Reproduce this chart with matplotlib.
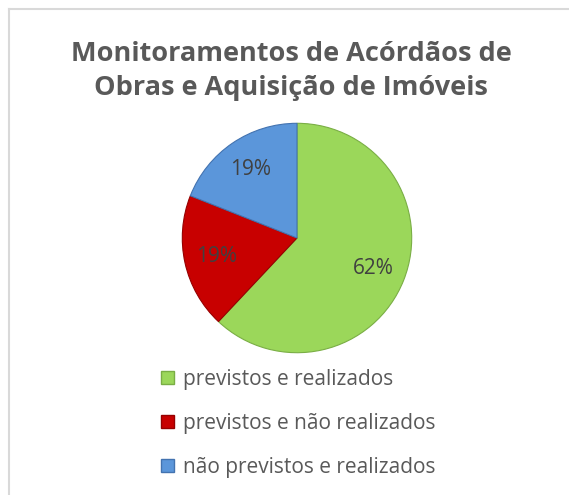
import matplotlib
matplotlib.use("Agg")
import matplotlib.pyplot as plt
from matplotlib.patches import Patch
from matplotlib.lines import Line2D

title = "Monitoramentos de Acórdãos de\nObras e Aquisição de Imóveis"
categories = ["previstos e realizados", "previstos e não realizados", "não previstos e realizados"]
values = [62, 19, 19]
colors = ["#9BD75A", "#C80000", "#5B96DA"]
edges = ["#7AAE45", "#960000", "#4373B0"]

plt.rcParams['font.family'] = ['Open Sans', 'DejaVu Sans']

W, H = 569, 495
fig = plt.figure(figsize=(W/100, H/100), dpi=100)
# chart frame (only top and left edges visible in the cropped picture)
fig.lines.append(Line2D([8.5/W, 1.0], [1 - 9/H, 1 - 9/H], transform=fig.transFigure,
                        color="#D9D9D9", linewidth=1.5))
fig.lines.append(Line2D([8.5/W, 8.5/W], [0.0, 1 - 9/H], transform=fig.transFigure,
                        color="#D9D9D9", linewidth=1.5))

fig.text(291/W, 1 - 71/H, title, ha="center", va="center", fontsize=19.5, fontweight="bold",
         color="#595959", linespacing=1.42, multialignment="center")

cx, cy, r = 297, 238, 117
ax = fig.add_axes([(cx - r)/W, (H - cy - r)/H, 2*r/W, 2*r/H])
wedges, texts, autotexts = ax.pie(values, colors=colors, startangle=90, counterclock=False,
                                  autopct=lambda p: f"{p:.0f}%", pctdistance=0.72,
                                  wedgeprops=dict(linewidth=0.8),
                                  textprops=dict(fontsize=15, color="#404040"))
for w, e in zip(wedges, edges):
    w.set_edgecolor(e)
ax.set_xlim(-1.02, 1.02)
ax.set_ylim(-1.02, 1.02)
ax.set_aspect("equal")
ax.axis("off")

handles = [Patch(facecolor=c, edgecolor=e, linewidth=1) for c, e in zip(colors, edges)]
fig.legend(handles, categories, loc="upper left", bbox_to_anchor=(161/W, 1 - 369/H),
           frameon=False, fontsize=15, labelspacing=1.1, handlelength=0.6, handleheight=0.6,
           handletextpad=0.45, borderpad=0, borderaxespad=0, labelcolor="#595959")

fig.savefig("out.png", dpi=100)
